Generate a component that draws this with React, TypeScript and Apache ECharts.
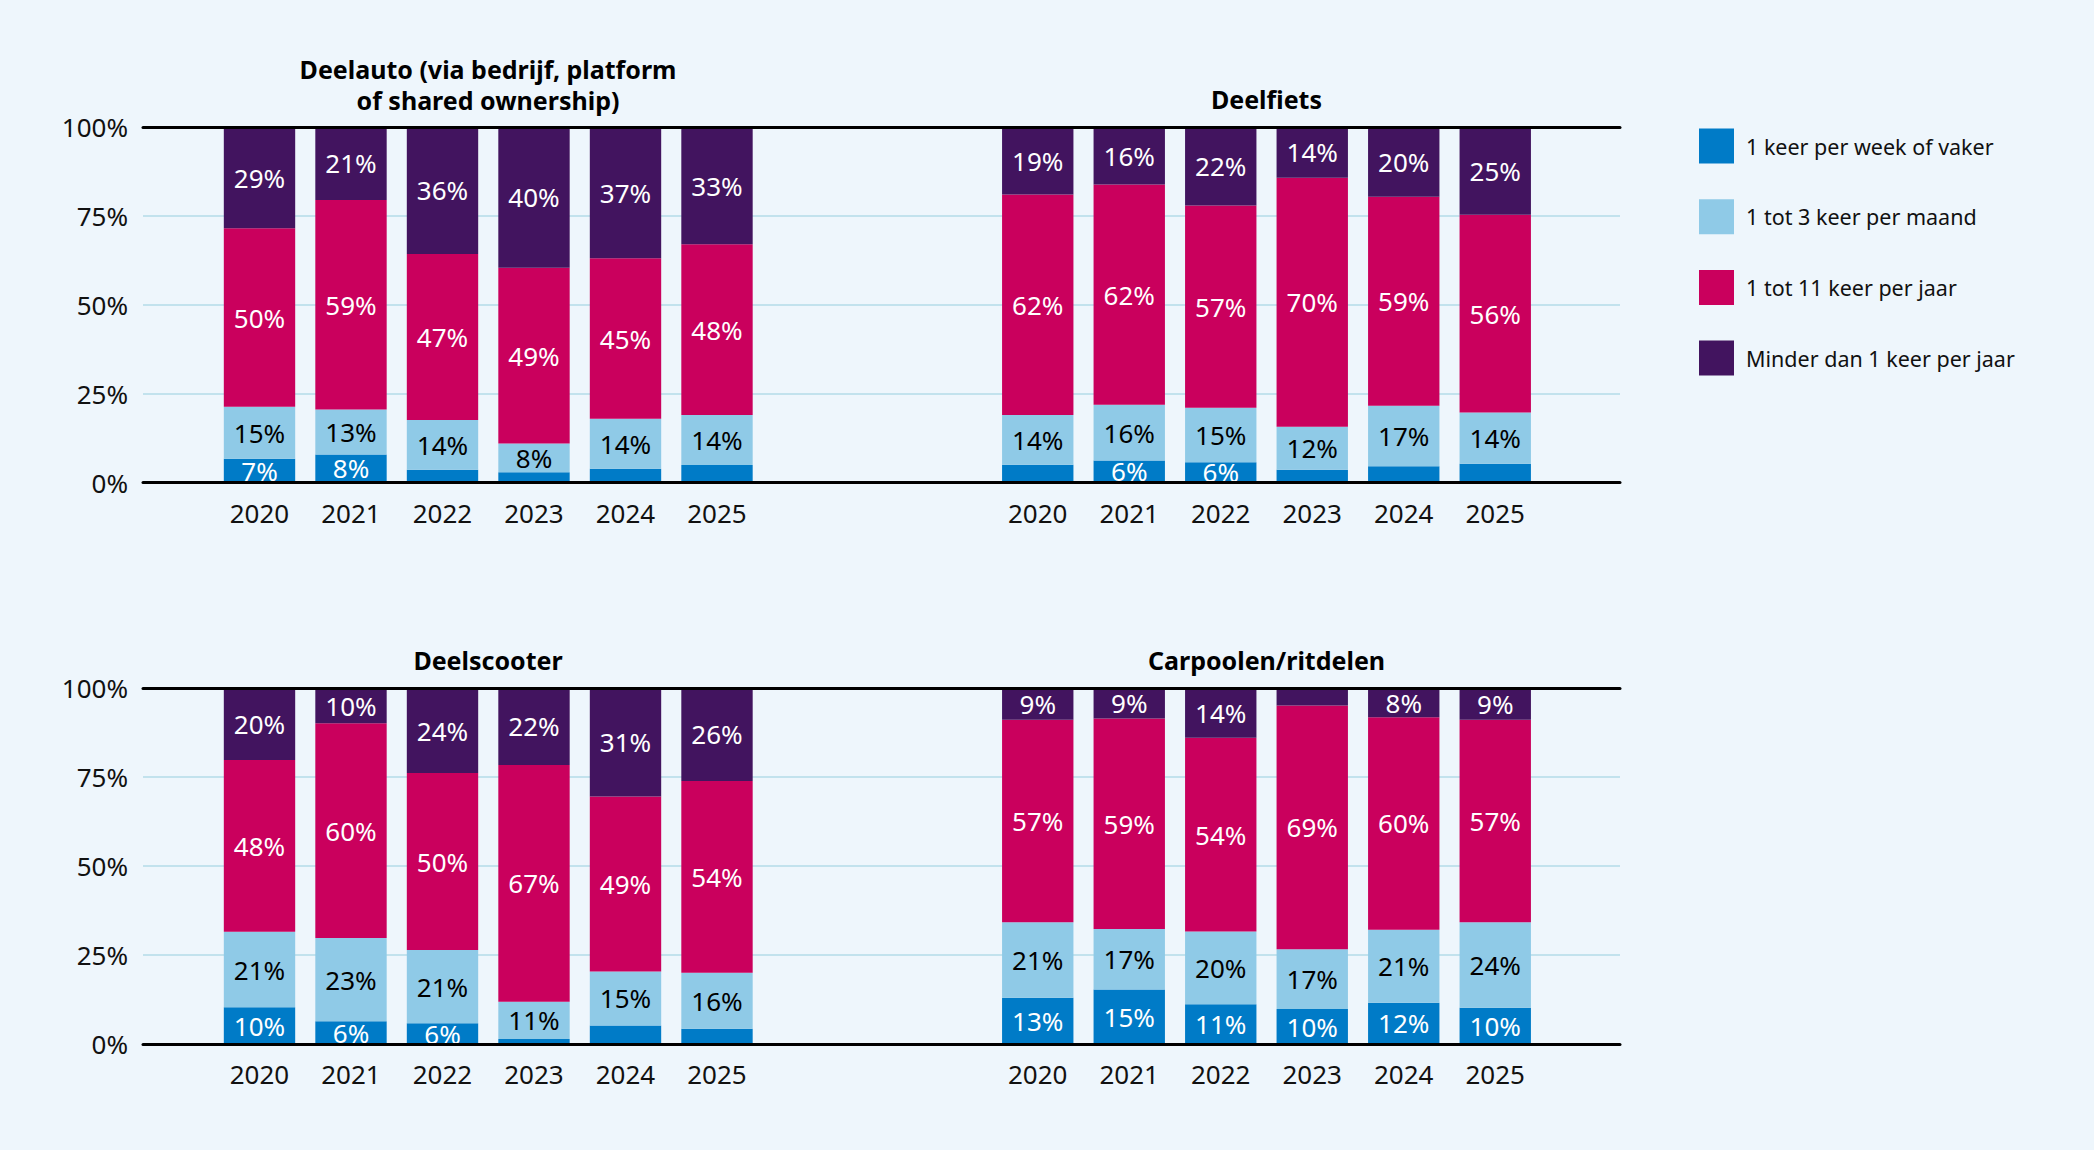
import React, { useEffect, useRef } from 'react';
import * as echarts from 'echarts';

// ---- Data ----
const years = ['2020', '2021', '2022', '2023', '2024', '2025'];
const seriesNames = [
  '1 keer per week of vaker',
  '1 tot 3 keer per maand',
  '1 tot 11 keer per jaar',
  'Minder dan 1 keer per jaar',
];
const yTicks = [0, 25, 50, 75, 100];

const panelTitles = [
  'Deelauto (via bedrijf, platform\nof shared ownership)',
  'Deelfiets',
  'Deelscooter',
  'Carpoolen/ritdelen',
];

// Deelauto
const deelautoWeekly = [6.7, 7.9, 3.6, 2.9, 3.9, 4.9];
const deelautoMonthly = [14.6, 12.6, 14.0, 8.1, 14.0, 14.1];
const deelautoYearly = [50.2, 59.0, 46.7, 49.4, 45.2, 48.0];
const deelautoRare = [28.5, 20.5, 35.7, 39.6, 36.9, 33.0];

// Deelfiets
const deelfietsWeekly = [5.0, 6.2, 5.7, 3.6, 4.6, 5.3];
const deelfietsMonthly = [14.0, 15.7, 15.3, 12.1, 17.0, 14.4];
const deelfietsYearly = [62.0, 61.9, 56.9, 70.0, 58.8, 55.6];
const deelfietsRare = [19.0, 16.2, 22.1, 14.3, 19.6, 24.7];

// Deelscooter
const deelscooterWeekly = [10.3, 6.4, 5.8, 1.4, 5.2, 4.3];
const deelscooterMonthly = [21.2, 23.4, 20.6, 10.5, 15.2, 15.7];
const deelscooterYearly = [48.3, 60.3, 49.7, 66.5, 49.1, 53.9];
const deelscooterRare = [20.2, 9.9, 23.9, 21.6, 30.5, 26.1];

// Carpoolen/ritdelen
const carpoolWeekly = [13.0, 15.3, 11.2, 9.8, 11.6, 10.2];
const carpoolMonthly = [21.2, 17.0, 20.4, 16.8, 20.5, 24.0];
const carpoolYearly = [56.9, 59.1, 54.4, 68.5, 59.7, 56.9];
const carpoolRare = [8.9, 8.6, 14.0, 4.9, 8.2, 8.9];

const panelData = [
  [deelautoWeekly, deelautoMonthly, deelautoYearly, deelautoRare],
  [deelfietsWeekly, deelfietsMonthly, deelfietsYearly, deelfietsRare],
  [deelscooterWeekly, deelscooterMonthly, deelscooterYearly, deelscooterRare],
  [carpoolWeekly, carpoolMonthly, carpoolYearly, carpoolRare],
];

// ---- Styles ----
const colors = ['#007bc7', '#8fcae7', '#ca005d', '#42145f'];
const labelColors = ['#ffffff', '#000000', '#ffffff', '#ffffff'];
const FONT = "'Noto Sans', sans-serif";
const BG = '#eef6fc';
const GRIDLINE = '#b3dbe8';
const TEXT = '#111111';
const NUM_SIZE = 26;

const rowTop = [127, 688];
const rowHeight = [355.5, 356];
const axisLeft = 143;
const axisWidth = 1477;
const barLeft = [213.75, 992];
const barWidthPx = 549;
const titlePos = [
  { x: 488, y: 84.5 },
  { x: 1266.5, y: 99 },
  { x: 488, y: 660 },
  { x: 1266.5, y: 660 },
];

function buildOption() {
  const grid: any[] = [];
  const xAxis: any[] = [];
  const yAxis: any[] = [];
  const series: any[] = [];
  const barXAxisIdx: number[] = [];
  const barYAxisIdx: number[] = [];

  for (let r = 0; r < 2; r++) {
    const gAxis = grid.length;
    grid.push({ left: axisLeft, top: rowTop[r], width: axisWidth, height: rowHeight[r] });
    for (const pos of ['bottom', 'top']) {
      xAxis.push({
        gridIndex: gAxis,
        type: 'value',
        position: pos,
        min: 0,
        max: 1,
        z: 5,
        axisLine: { show: true, lineStyle: { color: '#000', width: 3 } },
        axisTick: { show: false },
        axisLabel: { show: false },
        splitLine: { show: false },
      });
    }
    yAxis.push({
      gridIndex: gAxis,
      type: 'value',
      min: yTicks[0],
      max: yTicks[yTicks.length - 1],
      interval: yTicks[1] - yTicks[0],
      axisLine: { show: false },
      axisTick: { show: false },
      axisLabel: {
        formatter: '{value}%',
        fontSize: NUM_SIZE,
        fontFamily: FONT,
        color: TEXT,
        margin: 15,
      },
      splitLine: {
        show: true,
        lineStyle: {
          color: ['transparent', GRIDLINE, GRIDLINE, GRIDLINE, 'transparent'],
          width: 1.5,
        },
      },
    });

    for (let c = 0; c < 2; c++) {
      const g = grid.length;
      grid.push({ left: barLeft[c], top: rowTop[r], width: barWidthPx, height: rowHeight[r] });
      barXAxisIdx.push(xAxis.length);
      xAxis.push({
        gridIndex: g,
        type: 'category',
        data: years,
        axisLine: { show: false },
        axisTick: { show: false },
        axisLabel: { fontSize: NUM_SIZE, fontFamily: FONT, color: TEXT, margin: 17 },
        splitLine: { show: false },
      });
      barYAxisIdx.push(yAxis.length);
      yAxis.push({
        gridIndex: g,
        type: 'value',
        min: 0,
        max: 100,
        show: false,
        splitLine: { show: false },
      });
    }
  }

  panelData.forEach((arrs, p) => {
    arrs.forEach((vals, s) => {
      series.push({
        type: 'bar',
        name: seriesNames[s],
        xAxisIndex: barXAxisIdx[p],
        yAxisIndex: barYAxisIdx[p],
        stack: 'panel' + p,
        data: vals,
        barCategoryGap: '22%',
        itemStyle: { color: colors[s] },
        label: {
          show: true,
          position: 'inside',
          color: labelColors[s],
          fontSize: NUM_SIZE,
          fontFamily: FONT,
          formatter: (prm: any) => (prm.value >= 5.5 ? Math.round(prm.value) + '%' : ''),
        },
        emphasis: { disabled: true },
      });
    });
  });

  const graphic = panelTitles.map((t, i) => ({
    type: 'text',
    x: titlePos[i].x,
    y: titlePos[i].y,
    style: {
      text: t,
      font: `bold 25px ${FONT}`,
      fill: '#000',
      textAlign: 'center',
      textVerticalAlign: 'middle',
      align: 'center',
      verticalAlign: 'middle',
      lineHeight: 31,
    },
  }));

  return {
    animation: false,
    backgroundColor: BG,
    textStyle: { fontFamily: FONT },
    grid,
    xAxis,
    yAxis,
    series,
    graphic,
    legend: {
      data: seriesNames,
      orient: 'vertical',
      left: 1699,
      top: 128.5,
      padding: 0,
      itemWidth: 35,
      itemHeight: 35,
      itemGap: 35.7,
      icon: 'rect',
      selectedMode: false,
      textStyle: { fontSize: 21.5, fontFamily: FONT, color: TEXT, padding: [0, 0, 0, 7] },
    },
  };
}

export default function App() {
  const ref = useRef<HTMLDivElement>(null);
  useEffect(() => {
    document.body.style.margin = '0';
    const chart = echarts.init(ref.current!, null, { renderer: 'svg' });
    chart.setOption(buildOption() as any);
    return () => chart.dispose();
  }, []);
  return (
    <div
      ref={ref}
      style={{ position: 'fixed', left: 0, top: 0, width: 2094, height: 1150 }}
    />
  );
}
